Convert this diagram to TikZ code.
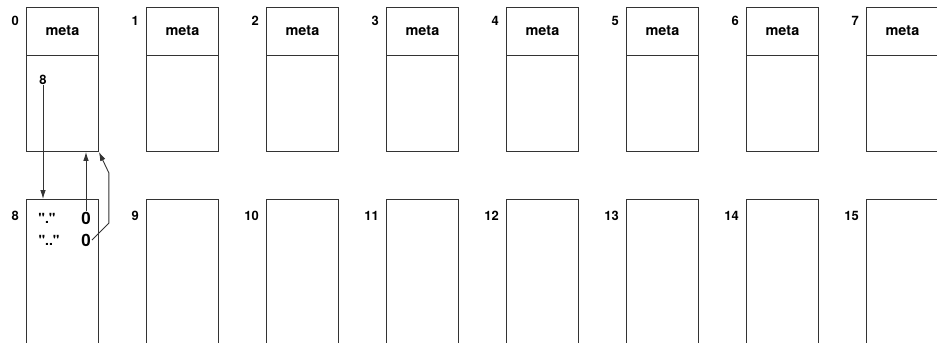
\documentclass[tikz,border=0pt]{standalone}
\usepackage{fontspec}
\setmainfont{TeX Gyre Heros}
\usetikzlibrary{arrows.meta,positioning}

\tikzset{
  blk/.style={draw=black!80,line width=0.9bp,minimum width=72bp,
    minimum height=144bp,anchor=north west,inner sep=0pt},
  idx/.style={font=\bfseries\fontsize{13}{13}\selectfont,anchor=east,inner sep=0pt},
  metatext/.style={font=\bfseries\fontsize{14.5}{14.5}\selectfont,inner sep=0pt},
  entry/.style={font=\bfseries\fontsize{14}{14}\selectfont,inner sep=1pt},
  ino/.style={font=\bfseries\fontsize{17}{17}\selectfont,inner sep=1pt},
  link/.style={draw=black!80,line width=0.9bp,-{Latex[length=9bp,width=5.5bp]}},
}

\begin{document}
\begin{tikzpicture}[x=1bp,y=-1bp]
  \useasboundingbox (0,0) rectangle (937,342);
  \clip (0,0) rectangle (937,342);
  % first row: blocks with meta
  \foreach \i in {0,...,7}{
    \pgfmathsetmacro{\x}{26+120*\i}
    \node[blk] (top\i) at (\x,7) {};
    \draw[draw=black!80,line width=0.9bp]
      ([yshift=-48bp]top\i.north west) -- ([yshift=-48bp]top\i.north east);
    \node[metatext] (meta\i) at ([yshift=-24bp]top\i.north) {meta};
    \node[idx] (lbl\i) at ([xshift=-7bp,yshift=-14bp]top\i.north west) {\i};
  }
  % second row
  \foreach \i in {8,...,15}{
    \pgfmathsetmacro{\x}{26+120*(\i-8)}
    \node[blk,minimum height=170bp] (bot\i) at (\x,199) {};
    \node[idx] (lbl\i) at ([xshift=-7bp,yshift=-17bp]bot\i.north west) {\i};
  }
  % directory entries
  \node[idx,anchor=center] (ptr) at (43,80) {8};
  \node[entry] (dot) at (47,218) {\textquotedbl.\textquotedbl};
  \node[ino] (dotino) at (86,218) {0};
  \node[entry] (dotdot) at (49,240) {\textquotedbl..\textquotedbl};
  \node[ino] (dotdotino) at (86,240) {0};
  \draw[link] (ptr.south) -- (ptr.south |- bot8.north);
  \draw[link] (dotino.north) -- (dotino.north |- top0.south);
  \draw[link] (dotdotino.east) -- ++(17,-17) -- ++(0,-50) -- (top0.south east);
\end{tikzpicture}
\end{document}
